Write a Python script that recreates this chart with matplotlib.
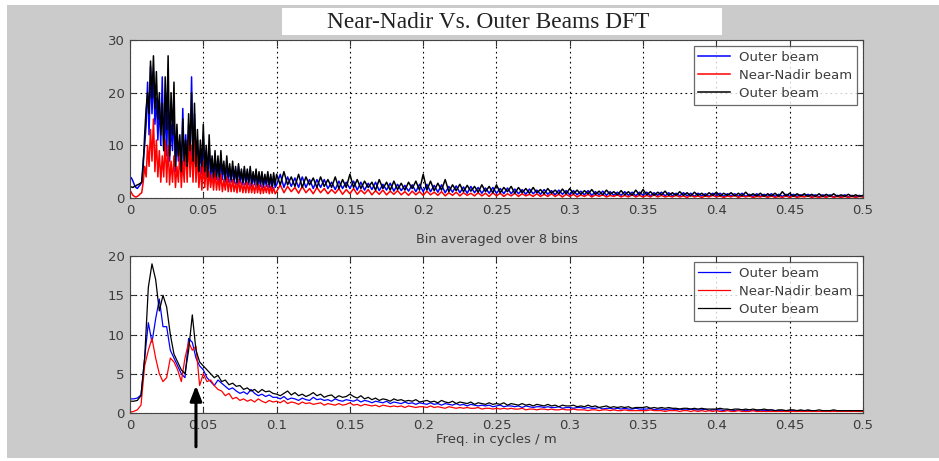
import numpy as np
import matplotlib
matplotlib.use("Agg")
import matplotlib.pyplot as plt
from matplotlib.patches import Rectangle

# raw DFT bins: 0.001 steps up to 0.1, then 0.0025 steps up to 0.5 cycles/m
freq_raw = np.concatenate([np.arange(100) * 0.001, 0.1 + np.arange(161) * 0.0025])
# bin-averaged spectrum: 0.0025 steps over 0 .. 0.5 cycles/m
freq_avg = np.arange(201) * 0.0025

# ---- raw DFT (top panel) ----
outer_blue_raw = [
    # 0 .. 0.099, one row per 0.01
    4.0, 3.8, 3.2, 2.5, 2.0, 1.8, 2.2, 2.5, 3.0, 7,
    10, 14, 22, 12, 25, 16, 24, 14, 19, 11,
    18, 10, 23, 9, 17, 8, 20, 7, 14, 9,
    16, 5, 12, 7, 10, 4, 17, 6, 12, 5,
    14, 8, 23, 6, 16, 5, 11, 5, 9, 4.5,
    12, 4, 9, 4, 10, 3.5, 7, 3.5, 8, 3.5,
    7, 3, 8, 3.5, 6, 3, 7, 3, 5.5, 3,
    6, 2.8, 5.5, 2.5, 6, 2.8, 5, 2.5, 5.5, 2.5,
    5, 2.5, 5.5, 2.2, 4.5, 2.5, 5, 2, 4.5, 2.2,
    4.5, 2, 4, 2.2, 4.5, 2, 4, 1.8, 4.2, 2,
    # 0.1 .. 0.5, one row per 0.05
    2.5, 4.5, 2, 4, 2.2, 3.8, 2, 4, 2, 3.5, 1.8, 3.5, 2, 3.5, 1.8, 3, 1.6, 3.2, 1.8, 3,
    1.8, 3.2, 1.5, 3, 1.5, 2.8, 1.6, 3, 1.4, 2.6, 1.5, 2.8, 1.3, 2.6, 1.4, 2.4, 1.3, 2.5, 1.2, 2.6,
    1.2, 2.6, 1.2, 2.4, 1.1, 2.5, 1.0, 2.2, 1.1, 2.3, 1.0, 2.1, 0.9, 2.2, 1.0, 2.0, 0.9, 1.9, 0.9, 2.0,
    0.9, 1.8, 0.8, 1.9, 0.8, 1.7, 0.8, 1.6, 0.7, 1.7, 0.8, 1.5, 0.7, 1.6, 0.7, 1.4, 0.6, 1.5, 0.7, 1.4,
    0.6, 1.4, 0.6, 1.3, 0.6, 1.4, 0.5, 1.2, 0.6, 1.3, 0.5, 1.2, 0.5, 1.1, 0.5, 1.2, 0.5, 1.1, 0.4, 1.1,
    0.5, 1.1, 0.4, 1.0, 0.5, 1.1, 0.4, 1.0, 0.4, 0.9, 0.4, 1.0, 0.4, 0.9, 0.3, 0.9, 0.4, 0.8, 0.3, 0.9,
    0.4, 0.9, 0.3, 0.8, 0.4, 0.8, 0.3, 0.9, 0.3, 0.7, 0.3, 0.8, 0.3, 0.7, 0.3, 0.8, 0.3, 0.7, 0.3, 0.7,
    0.3, 0.7, 0.3, 0.6, 0.3, 0.7, 0.3, 0.6, 0.2, 0.6, 0.3, 0.6, 0.2, 0.5, 0.3, 0.6, 0.2, 0.5, 0.2, 0.5,
    0.3,
]
nadir_red_raw = [
    1.5, 1.0, 0.5, 0.3, 0.2, 0.3, 0.5, 0.8, 1.0, 3,
    6, 4, 10, 6, 13, 7, 15, 5, 11, 4,
    9, 3, 8, 4, 11, 3, 10, 2.5, 7, 3,
    8, 2, 6, 3, 9, 2, 7, 3, 10, 3,
    12, 4, 10, 3, 11, 3, 8, 2, 6, 1.5,
    7, 2, 6, 1.5, 5, 2, 4.5, 1.5, 5, 1.5,
    4, 1.5, 4.5, 1.2, 3.5, 1.5, 4, 1.2, 3.5, 1.2,
    3.5, 1.2, 3, 1, 3.5, 1.2, 3, 1, 2.8, 1,
    3, 1, 2.8, 1, 2.5, 0.9, 2.8, 1, 2.5, 0.8,
    2.5, 0.9, 2.2, 1, 2.5, 0.8, 2.2, 0.9, 2, 0.8,
    1.2, 2.5, 1, 2.2, 1.2, 2, 0.9, 2.2, 1, 1.8, 0.8, 2, 1, 1.8, 0.8, 1.6, 0.9, 1.8, 0.7, 1.6,
    0.8, 1.8, 0.7, 1.5, 0.8, 1.6, 0.6, 1.4, 0.7, 1.5, 0.6, 1.3, 0.7, 1.4, 0.6, 1.2, 0.5, 1.3, 0.6, 1.2,
    0.5, 1.3, 0.6, 1.1, 0.5, 1.2, 0.4, 1.0, 0.5, 1.1, 0.4, 1.0, 0.5, 0.9, 0.4, 1.0, 0.4, 0.9, 0.3, 1.0,
    0.4, 0.9, 0.3, 0.8, 0.4, 0.9, 0.3, 0.8, 0.4, 0.7, 0.3, 0.8, 0.3, 0.7, 0.3, 0.8, 0.3, 0.7, 0.2, 0.7,
    0.3, 0.7, 0.2, 0.6, 0.3, 0.7, 0.2, 0.6, 0.3, 0.6, 0.2, 0.5, 0.3, 0.6, 0.2, 0.5, 0.2, 0.6, 0.2, 0.5,
    0.2, 0.5, 0.2, 0.6, 0.2, 0.5, 0.2, 0.4, 0.2, 0.5, 0.2, 0.4, 0.1, 0.5, 0.2, 0.4, 0.1, 0.4, 0.2, 0.5,
    0.2, 0.4, 0.1, 0.4, 0.2, 0.5, 0.1, 0.4, 0.2, 0.4, 0.1, 0.3, 0.2, 0.4, 0.1, 0.4, 0.1, 0.3, 0.1, 0.4,
    0.1, 0.4, 0.1, 0.3, 0.2, 0.4, 0.1, 0.3, 0.1, 0.3, 0.1, 0.4, 0.1, 0.3, 0.1, 0.3, 0.1, 0.3, 0.1, 0.3,
    0.2,
]
outer_black_raw = [
    2.0, 2.1, 2.0, 2.2, 2.3, 2.5, 2.6, 2.8, 3.0, 6.0,
    12, 17, 20, 16, 26, 19, 27, 17, 24, 15,
    20, 12, 18, 9, 23, 13, 27, 8, 20, 12,
    22, 6, 14, 8, 12, 5, 15, 7, 11, 6,
    16, 9, 20, 7, 18, 6, 13, 5, 11, 6,
    14, 5, 10, 4, 12, 5, 8, 4, 9, 4,
    8, 4, 9, 4.5, 7, 3.5, 8, 4, 6.5, 3.5,
    7, 3.5, 6, 3, 6.5, 3.5, 5.5, 3, 6, 3,
    5.5, 3, 6, 2.8, 5, 3, 5.5, 2.5, 5, 2.8,
    5, 2.5, 4.5, 2.8, 5, 2.5, 4.5, 2.2, 4.8, 2.5,
    4.5, 2.5, 5, 2.5, 4, 2.2, 4.5, 2, 4, 2.5, 3.8, 2, 4, 2.2, 3.5, 2, 4, 1.8, 3.5, 2,
    4.5, 2, 3.5, 1.8, 3.2, 2, 3, 1.5, 3.5, 1.8, 3, 1.5, 3.2, 1.6, 2.8, 1.5, 3, 1.8, 3.2, 1.5,
    4.5, 1.5, 3.2, 1.4, 2.8, 1.5, 3.5, 1.2, 2.5, 1.4, 2.6, 1.2, 2.4, 1.3, 2.2, 1.1, 2.5, 1.2, 2.2, 1.0,
    2.5, 1.0, 2.0, 1.2, 2.2, 0.9, 2.0, 1.0, 1.8, 0.9, 2.0, 1.0, 1.6, 0.8, 1.8, 0.9, 1.5, 0.8, 1.7, 0.8,
    1.8, 0.8, 1.5, 0.7, 1.4, 0.8, 1.6, 0.7, 1.3, 0.6, 1.5, 0.7, 1.2, 0.6, 1.4, 0.6, 1.2, 0.5, 1.5, 0.6,
    1.6, 0.6, 1.2, 0.5, 1.1, 0.6, 1.3, 0.5, 1.0, 0.5, 1.2, 0.5, 1.0, 0.4, 1.1, 0.5, 0.9, 0.4, 1.0, 0.5,
    1.1, 0.4, 0.9, 0.5, 1.0, 0.4, 0.9, 0.4, 1.1, 0.4, 0.8, 0.4, 0.9, 0.3, 0.8, 0.4, 0.9, 0.3, 1.2, 0.4,
    0.9, 0.3, 0.8, 0.4, 0.8, 0.3, 0.7, 0.3, 0.8, 0.3, 0.7, 0.3, 0.8, 0.3, 0.6, 0.3, 0.7, 0.3, 0.6, 0.3,
    0.5,
]

# ---- bin averaged over 8 bins (bottom panel), one row per 0.05 ----
outer_blue_avg = [
    1.8, 1.8, 1.9, 2.3, 7, 11.5, 9, 12, 14.5, 11, 11, 8, 7, 6, 5, 4.5, 9.5, 9, 7, 6,
    5.5, 4.5, 4, 3.5, 4.2, 3.8, 3.4, 3, 3.2, 2.8, 2.5, 2.7, 2.4, 3, 2.5, 2.2, 2.4, 2.1, 2.3, 2,
    2.0, 1.8, 2.1, 1.7, 1.9, 1.8, 1.6, 1.9, 1.7, 1.6, 2.0, 1.7, 1.8, 1.6, 1.7, 1.5, 1.8, 1.6, 1.5, 1.7,
    1.6, 1.5, 1.7, 1.4, 1.6, 1.5, 1.3, 1.5, 1.4, 1.3, 1.5, 1.2, 1.4, 1.3, 1.2, 1.4, 1.2, 1.3, 1.1, 1.3,
    1.2, 1.1, 1.3, 1.1, 1.2, 1.0, 1.2, 1.1, 1.0, 1.2, 1.0, 1.1, 0.9, 1.1, 1.0, 0.9, 1.0, 0.9, 1.0, 0.8,
    0.9, 1.0, 0.8, 0.9, 0.9, 0.8, 0.9, 0.7, 0.9, 0.8, 0.7, 0.8, 0.8, 0.7, 0.8, 0.7, 0.7, 0.8, 0.6, 0.7,
    0.7, 0.6, 0.7, 0.7, 0.6, 0.7, 0.6, 0.6, 0.7, 0.5, 0.6, 0.6, 0.5, 0.6, 0.5, 0.6, 0.5, 0.5, 0.6, 0.5,
    0.5, 0.5, 0.6, 0.4, 0.5, 0.5, 0.4, 0.5, 0.5, 0.4, 0.5, 0.4, 0.4, 0.5, 0.4, 0.4, 0.4, 0.5, 0.3, 0.4,
    0.4, 0.4, 0.3, 0.4, 0.4, 0.3, 0.4, 0.4, 0.3, 0.4, 0.3, 0.3, 0.4, 0.3, 0.3, 0.4, 0.3, 0.3, 0.3, 0.3,
    0.3, 0.3, 0.3, 0.3, 0.2, 0.3, 0.3, 0.3, 0.2, 0.3, 0.3, 0.2, 0.3, 0.2, 0.3, 0.2, 0.3, 0.2, 0.3, 0.2,
    0.3,
]
nadir_red_avg = [
    0.1, 0.2, 0.4, 1.0, 6, 8, 9.5, 7, 5, 4, 4.5, 7, 6.5, 5.5, 4, 7, 9, 8, 8.5, 3.5,
    5, 4, 4.2, 3.5, 3, 2.8, 2.2, 2.5, 1.8, 2, 1.6, 1.8, 1.5, 1.7, 1.4, 1.8, 1.5, 1.3, 1.6, 1.4,
    1.5, 1.3, 1.6, 1.2, 1.4, 1.3, 1.1, 1.4, 1.2, 1.3, 1.1, 1.2, 1.3, 1.0, 1.2, 1.1, 1.0, 1.2, 1.0, 1.1,
    1.3, 1.0, 1.1, 0.9, 1.1, 1.0, 0.9, 1.0, 0.8, 1.0, 0.9, 0.8, 0.9, 0.8, 0.9, 0.7, 0.9, 0.8, 0.7, 0.8,
    0.8, 0.7, 0.9, 0.7, 0.8, 0.7, 0.6, 0.8, 0.7, 0.6, 0.7, 0.6, 0.7, 0.6, 0.6, 0.7, 0.5, 0.6, 0.6, 0.5,
    0.6, 0.5, 0.6, 0.5, 0.6, 0.5, 0.5, 0.6, 0.4, 0.5, 0.5, 0.4, 0.5, 0.5, 0.4, 0.5, 0.4, 0.4, 0.5, 0.4,
    0.4, 0.5, 0.4, 0.4, 0.4, 0.3, 0.4, 0.4, 0.3, 0.4, 0.4, 0.3, 0.4, 0.3, 0.3, 0.4, 0.3, 0.3, 0.3, 0.3,
    0.3, 0.3, 0.4, 0.3, 0.3, 0.3, 0.2, 0.3, 0.3, 0.3, 0.2, 0.3, 0.3, 0.2, 0.3, 0.2, 0.3, 0.2, 0.3, 0.2,
    0.3, 0.2, 0.2, 0.3, 0.2, 0.2, 0.3, 0.2, 0.2, 0.2, 0.3, 0.2, 0.2, 0.2, 0.2, 0.2, 0.2, 0.2, 0.2, 0.2,
    0.2, 0.2, 0.2, 0.2, 0.2, 0.2, 0.2, 0.2, 0.2, 0.2, 0.2, 0.2, 0.2, 0.2, 0.2, 0.2, 0.2, 0.2, 0.2, 0.2,
    0.2,
]
outer_black_avg = [
    1.5, 1.5, 1.6, 2.2, 7, 16, 19, 17, 13, 15, 13.5, 10, 7.5, 6.5, 5.5, 5, 8, 12.5, 8, 6.5,
    6, 5.5, 5, 4.5, 4.8, 4, 4.2, 3.6, 3.8, 3.4, 3.5, 3, 3.2, 2.8, 3, 2.6, 3, 2.7, 2.8, 2.5,
    2.4, 2.2, 2.5, 2.8, 2.3, 2.6, 2.2, 2.4, 2.1, 2.3, 2.6, 2.2, 2.4, 2.0, 2.2, 2.3, 1.9, 2.2, 2.0, 2.1,
    2.4, 2.1, 1.9, 2.2, 1.8, 2.0, 1.7, 1.9, 1.6, 1.8, 1.7, 1.5, 1.8, 1.6, 1.7, 1.5, 1.6, 1.5, 1.7, 1.4,
    1.5, 1.6, 1.4, 1.5, 1.3, 1.6, 1.4, 1.3, 1.5, 1.2, 1.4, 1.3, 1.2, 1.4, 1.1, 1.3, 1.2, 1.1, 1.3, 1.1,
    1.2, 1.1, 1.3, 1.0, 1.2, 1.1, 1.0, 1.2, 1.0, 1.1, 0.9, 1.1, 1.0, 0.9, 1.1, 0.9, 1.0, 0.8, 1.0, 0.9,
    0.9, 1.0, 0.8, 0.9, 0.8, 1.0, 0.8, 0.9, 0.7, 0.8, 0.9, 0.7, 0.8, 0.7, 0.8, 0.7, 0.8, 0.6, 0.7, 0.7,
    0.7, 0.8, 0.6, 0.7, 0.6, 0.7, 0.6, 0.7, 0.6, 0.6, 0.5, 0.6, 0.6, 0.5, 0.6, 0.5, 0.6, 0.5, 0.5, 0.5,
    0.5, 0.6, 0.5, 0.5, 0.4, 0.5, 0.5, 0.4, 0.5, 0.4, 0.5, 0.4, 0.4, 0.5, 0.4, 0.4, 0.3, 0.4, 0.4, 0.3,
    0.4, 0.4, 0.3, 0.4, 0.3, 0.4, 0.3, 0.3, 0.4, 0.3, 0.3, 0.3, 0.4, 0.3, 0.3, 0.3, 0.3, 0.3, 0.3, 0.3,
    0.3,
]

labels = ["Outer beam", "Near-Nadir beam", "Outer beam"]
colors = ["blue", "red", "black"]
xticks = [0, 0.05, 0.1, 0.15, 0.2, 0.25, 0.3, 0.35, 0.4, 0.45, 0.5]
xticklabels = ["0", "0.05", "0.1", "0.15", "0.2", "0.25", "0.3", "0.35", "0.4", "0.45", "0.5"]
arrow_freq = 0.045

W, H = 939, 461
fig = plt.figure(figsize=(W / 100, H / 100), dpi=100, facecolor="white")
# grey MATLAB-style figure panel, behind the axes
fig.patches.append(Rectangle((7 / W, 3 / H), (W - 7) / W, (H - 8) / H,
                             transform=fig.transFigure, facecolor="#cbcbcb",
                             edgecolor="none", zorder=-2))
# white box behind the title
fig.patches.append(Rectangle((282 / W, 1 - 35 / H), 440 / W, 27 / H,
                             transform=fig.transFigure, facecolor="white",
                             edgecolor="none", zorder=-1))

grey_txt = "#3c3c3c"


def style_axes(ax, ymax, yticks):
    ax.set_xlim(0, 0.5)
    ax.set_ylim(0, ymax)
    ax.set_xticks(xticks)
    ax.set_xticklabels(xticklabels)
    ax.set_yticks(yticks)
    ax.tick_params(direction="in", top=True, right=True, length=4, width=0.8,
                   labelsize=9.5, labelcolor=grey_txt, color="#333333", pad=4)
    ax.grid(True, color="black", linestyle=(0, (1.5, 3)), linewidth=0.8)
    for s in ax.spines.values():
        s.set_color("#444444")
        s.set_linewidth(0.8)
    ax.set_facecolor("white")


def add_legend(ax):
    leg = ax.legend(loc="upper right", fontsize=9.5, frameon=True, fancybox=False,
                    borderpad=0.35, handlelength=2.4, labelspacing=0.4,
                    handletextpad=0.7, borderaxespad=0.45)
    leg.get_frame().set_edgecolor("#444444")
    leg.get_frame().set_linewidth(0.9)
    for t in leg.get_texts():
        t.set_color(grey_txt)


ax1 = fig.add_axes([130 / W, 1 - 198 / H, 733 / W, 158 / H])
ax1.plot(freq_raw, outer_blue_raw, color=colors[0], lw=1.1, label=labels[0])
ax1.plot(freq_raw, nadir_red_raw, color=colors[1], lw=1.1, label=labels[1])
ax1.plot(freq_raw, outer_black_raw, color=colors[2], lw=1.1, label=labels[2])
style_axes(ax1, 30, [0, 10, 20, 30])
add_legend(ax1)
ax1.set_xlabel("Bin averaged over 8 bins", fontsize=9.3, color=grey_txt, labelpad=12)

ax2 = fig.add_axes([130 / W, 1 - 413 / H, 733 / W, 157 / H])
ax2.plot(freq_avg, outer_blue_avg, color=colors[0], lw=0.9, label=labels[0])
ax2.plot(freq_avg, nadir_red_avg, color=colors[1], lw=0.9, label=labels[1])
ax2.plot(freq_avg, outer_black_avg, color=colors[2], lw=0.9, label=labels[2])
style_axes(ax2, 20, [0, 5, 10, 15, 20])
add_legend(ax2)
ax2.set_xlabel("Freq. in cycles / m", fontsize=9.5, color=grey_txt, labelpad=1)

# arrow marking the 0.045 cycles/m feature
ax2.annotate("", xy=(arrow_freq, 3.5), xycoords="data",
             xytext=(arrow_freq, -0.215), textcoords=("data", "axes fraction"),
             arrowprops=dict(arrowstyle="-|>,head_length=0.9,head_width=0.35",
                             color="black", lw=2.2, shrinkA=0, shrinkB=0),
             annotation_clip=False)

# title
fig.text(488 / W, 1 - 28 / H, "Near-Nadir Vs. Outer Beams DFT",
         family=["Liberation Serif", "DejaVu Serif"], fontsize=16.8, color="#222222",
         ha="center", va="baseline")

fig.savefig("out.png", dpi=100, facecolor=fig.get_facecolor())
